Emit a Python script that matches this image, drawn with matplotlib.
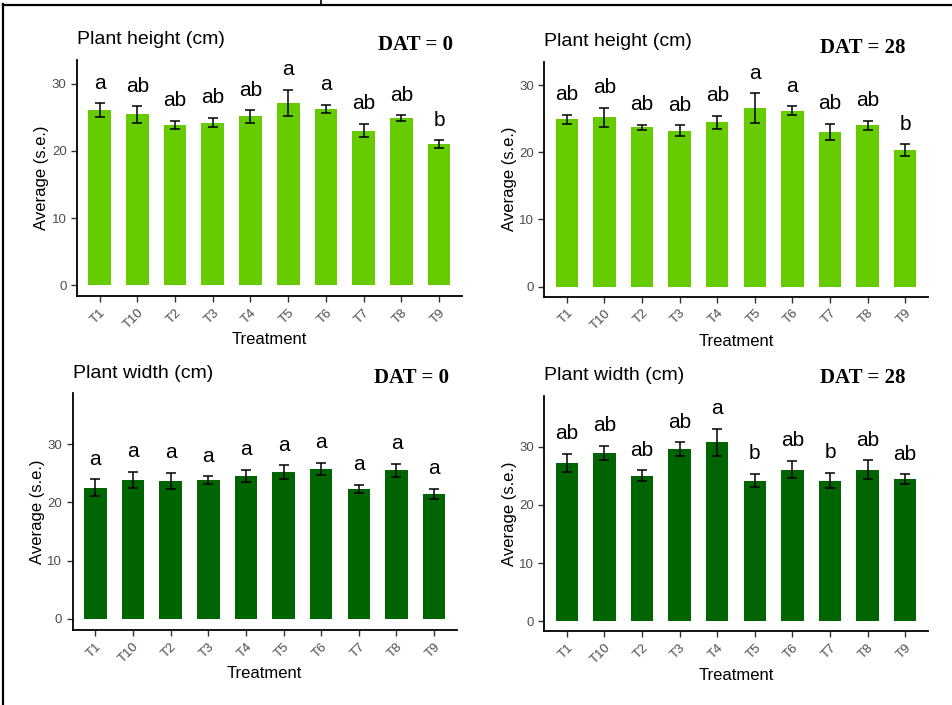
import numpy as np
import matplotlib
matplotlib.use('Agg')
import matplotlib.pyplot as plt
from matplotlib.lines import Line2D

# data
treatments = ['T1', 'T10', 'T2', 'T3', 'T4', 'T5', 'T6', 'T7', 'T8', 'T9']

height_0 = [26.0, 25.4, 23.9, 24.2, 25.1, 27.1, 26.2, 23.0, 24.85, 21.0]
height_0_se = [1.05, 1.2, 0.6, 0.7, 0.95, 2.0, 0.6, 1.0, 0.4, 0.55]
height_0_grp = ['a', 'ab', 'ab', 'ab', 'ab', 'a', 'a', 'ab', 'ab', 'b']

height_28 = [24.9, 25.2, 23.75, 23.25, 24.45, 26.6, 26.2, 23.0, 24.0, 20.3]
height_28_se = [0.65, 1.45, 0.37, 0.75, 0.97, 2.2, 0.65, 1.23, 0.72, 0.87]
height_28_grp = ['ab', 'ab', 'ab', 'ab', 'ab', 'a', 'a', 'ab', 'ab', 'b']

width_0 = [22.55, 23.9, 23.7, 23.8, 24.6, 25.2, 25.8, 22.3, 25.5, 21.5]
width_0_se = [1.4, 1.4, 1.35, 0.7, 1.05, 1.2, 1.05, 0.74, 1.17, 0.88]
width_0_grp = ['a'] * 10

width_28 = [27.25, 28.97, 25.0, 29.55, 30.75, 24.2, 26.05, 24.2, 26.05, 24.4]
width_28_se = [1.55, 1.23, 0.95, 1.2, 2.4, 1.2, 1.5, 1.3, 1.6, 0.85]
width_28_grp = ['ab', 'ab', 'ab', 'ab', 'a', 'b', 'ab', 'b', 'ab', 'ab']

W, H = 953, 705
fig = plt.figure(figsize=(W / 100, H / 100), dpi=100)
plt.rcParams['font.family'] = ['Liberation Sans', 'DejaVu Sans']


def fx(px):
    return px / W


def fy(py):
    return 1 - py / H


def panel(rect, values, se, groups, color, title, dat, ylim, ylab_x, xlab_y, dat_pos):
    ax = fig.add_axes(rect)
    x = np.arange(len(treatments))
    ax.bar(x, values, width=0.6, color=color)
    ax.errorbar(x, values, yerr=se, fmt='none', ecolor='black',
                elinewidth=1.1, capsize=3.4, capthick=1.1)
    for xi, v, s, g in zip(x, values, se, groups):
        ax.annotate(g, (xi, v + s), xytext=(0, 10.5), textcoords='offset points',
                    ha='center', va='baseline', fontsize=15)
    ax.set_xlim(-0.6, 9.6)
    ax.set_ylim(*ylim)
    ax.set_yticks([0, 10, 20, 30])
    ax.set_xticks(x)
    ax.set_xticklabels(treatments, rotation=45, ha='right', va='top',
                       rotation_mode='anchor')
    for s in ['top', 'right']:
        ax.spines[s].set_visible(False)
    for s in ['left', 'bottom']:
        ax.spines[s].set_linewidth(1.3)
    ax.tick_params(colors='#333333', labelcolor='#4D4D4D', labelsize=9.5,
                   length=4, width=1)
    ax.text(ylab_x, 0.5, 'Average (s.e.)', transform=ax.transAxes, rotation=90,
            ha='center', va='center', fontsize=12)
    ax.text(0.5, xlab_y, 'Treatment', transform=ax.transAxes,
            ha='center', va='center', fontsize=12)
    ax.text(0, 1.085, title, transform=ax.transAxes, ha='left', va='center',
            fontsize=14)
    ax.text(dat_pos[0], dat_pos[1], dat, transform=ax.transAxes, ha='right',
            va='center', fontsize=15, fontweight='bold',
            family=['Liberation Serif', 'DejaVu Serif'])
    return ax


light = '#66CC00'
dark = '#006400'

panel([fx(77), fy(296), fx(461.7 - 77), (296 - 60) / H],
      height_0, height_0_se, height_0_grp, light,
      'Plant height (cm)', 'DAT = 0', (-1.6, 33.5), -0.092, -0.186, (0.977, 1.064))
panel([fx(544.3), fy(296.7), fx(927.7 - 544.3), (296.7 - 61.7) / H],
      height_28, height_28_se, height_28_grp, light,
      'Plant height (cm)', 'DAT = 28', (-1.5, 33.5), -0.091, -0.19, (0.941, 1.058))
panel([fx(72.7), fy(630), fx(456.7 - 72.7), (630 - 393.3) / H],
      width_0, width_0_se, width_0_grp, dark,
      'Plant width (cm)', 'DAT = 0', (-1.9, 38.75), -0.091, -0.182, (0.979, 1.066))
panel([fx(544.3), fy(631), fx(927.7 - 544.3), (631 - 395.7) / H],
      width_28, width_28_se, width_28_grp, dark,
      'Plant width (cm)', 'DAT = 28', (-1.7, 38.8), -0.091, -0.188, (0.943, 1.074))

# page frame around the figure
fig.add_artist(Line2D([fx(3), fx(3)], [fy(4), 0], color='black', lw=1.6))
fig.add_artist(Line2D([fx(3), 1], [fy(4.5), fy(4.5)], color='black', lw=1.6))
fig.add_artist(Line2D([fx(321), fx(321)], [1, fy(4.5)], color='black', lw=1.2))

fig.savefig('out.png', dpi=100)
